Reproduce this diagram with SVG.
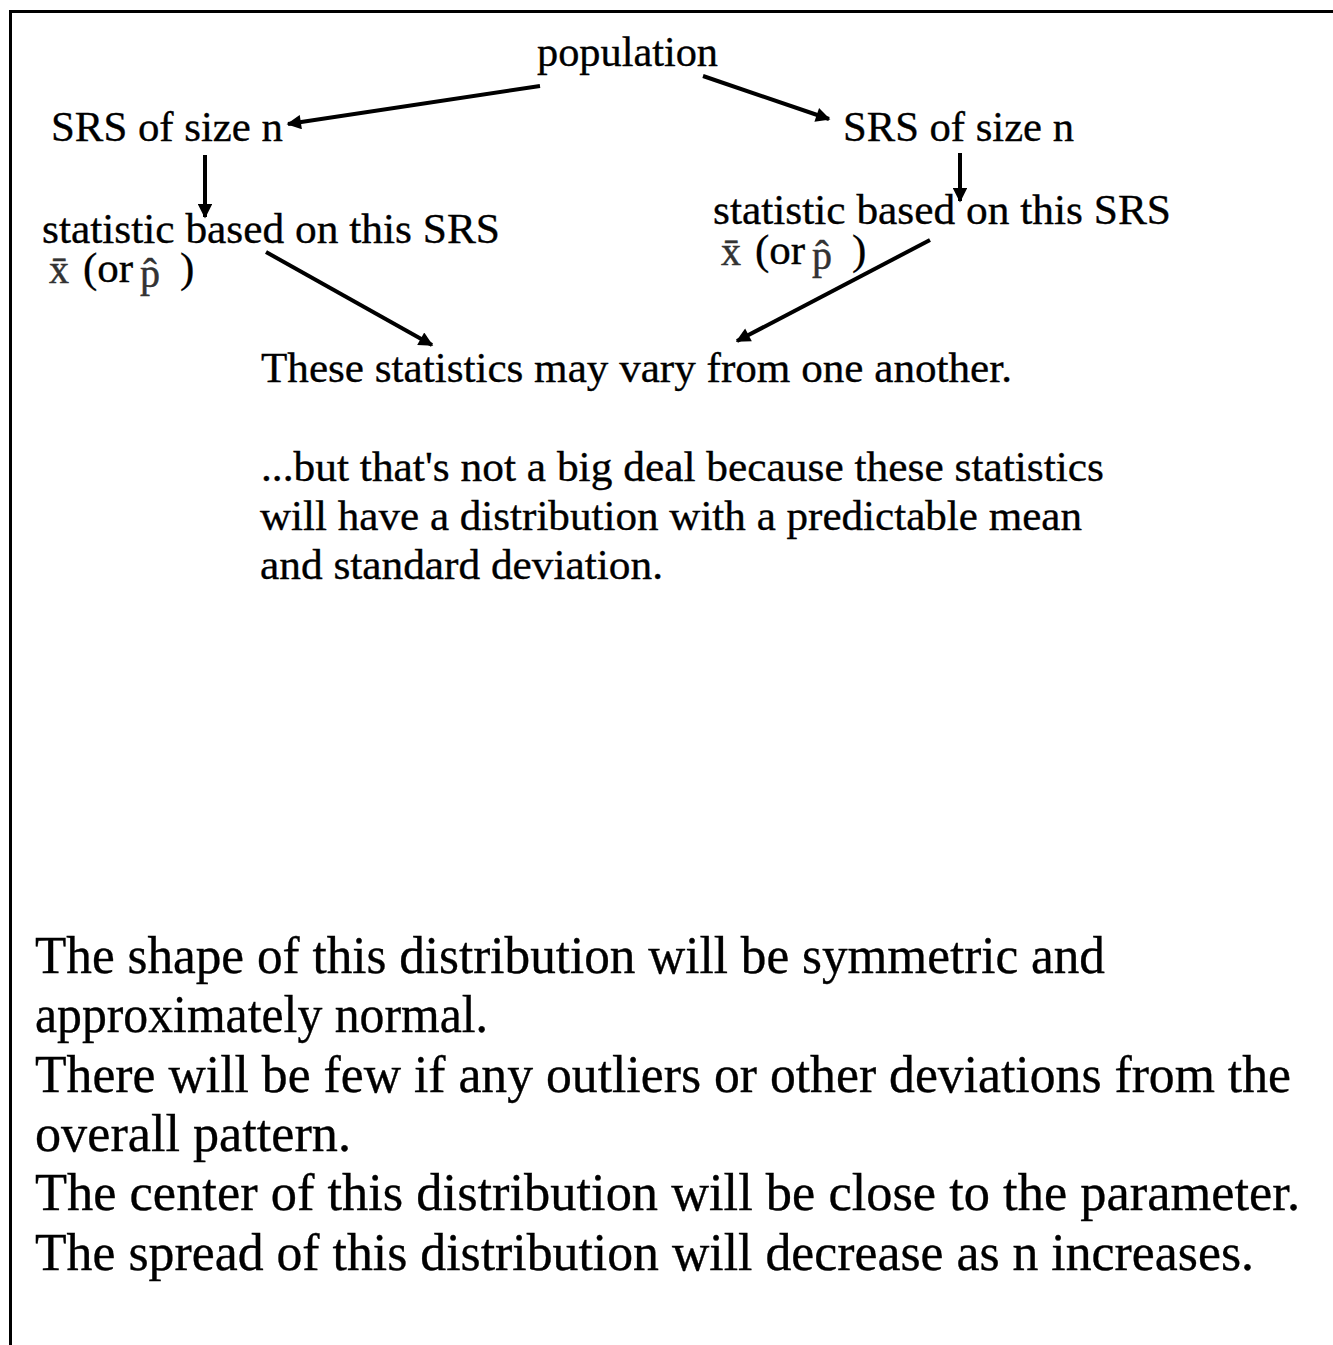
<svg xmlns="http://www.w3.org/2000/svg" width="1333" height="1345" viewBox="0 0 1333 1345">
<style>
.m{font-size:43px}
.b{font-size:52px}
.t{fill:#000;stroke:#000;stroke-width:0.35}
.sym{font-size:40px;fill:#333;stroke:#333;stroke-width:0.5}
.c{stroke:#000;stroke-width:4;fill:none;marker-end:url(#ah)}
</style>
<defs>
<marker id="ah" viewBox="0 0 10 10" refX="9" refY="5" markerWidth="4" markerHeight="3.6" orient="auto" markerUnits="strokeWidth">
<path d="M0,0 L10,5 L0,10 Z" fill="#000"/>
</marker>
</defs>
<rect x="0" y="0" width="1333" height="1345" fill="#fff"/>
<path d="M10.5,1345 V11.5 H1333" fill="none" stroke="#000" stroke-width="3"/>
<g id="connectors">
<line class="c" x1="540" y1="86" x2="288" y2="124"/>
<line class="c" x1="703" y1="76" x2="829" y2="119"/>
<line class="c" x1="205" y1="155" x2="205" y2="217"/>
<line class="c" x1="960" y1="153" x2="960" y2="201"/>
<line class="c" x1="266" y1="252" x2="432" y2="345"/>
<line class="c" x1="930" y1="240" x2="737" y2="341"/>
</g>
<g font-family="Liberation Serif, Times New Roman, serif">
<g id="population" class="t"><text class="m" x="537" y="66" textLength="181" lengthAdjust="spacingAndGlyphs">population</text></g>
<g id="srs-left" class="t"><text class="m" x="51" y="141" textLength="232" lengthAdjust="spacingAndGlyphs">SRS of size n</text></g>
<g id="srs-right" class="t"><text class="m" x="843" y="141" textLength="231" lengthAdjust="spacingAndGlyphs">SRS of size n</text></g>
<g id="statistic-left">
<text class="m t" x="42" y="243" textLength="458" lengthAdjust="spacingAndGlyphs">statistic based on this SRS</text>
<text class="sym" x="49" y="283">x̄</text><text class="m t" x="83" y="282">(or</text><text class="sym" x="140" y="287">p̂</text><text class="m t" x="180" y="282">)</text>
</g>
<g id="statistic-right">
<text class="m t" x="713" y="224" textLength="458" lengthAdjust="spacingAndGlyphs">statistic based on this SRS</text>
<text class="sym" x="721" y="265">x̄</text><text class="m t" x="755" y="264">(or</text><text class="sym" x="812" y="269">p̂</text><text class="m t" x="852" y="264">)</text>
</g>
<g id="vary" class="t">
<text class="m" x="261" y="382" textLength="751" lengthAdjust="spacingAndGlyphs">These statistics may vary from one another.</text>
</g>
<g id="distribution-note" class="t">
<text class="m" x="261" y="481" textLength="843" lengthAdjust="spacingAndGlyphs">...but that's not a big deal because these statistics</text>
<text class="m" x="260" y="530" textLength="822" lengthAdjust="spacingAndGlyphs">will have a distribution with a predictable mean</text>
<text class="m" x="260" y="579" textLength="403" lengthAdjust="spacingAndGlyphs">and standard deviation.</text>
</g>
<g id="properties" class="t">
<text class="b" x="35" y="973" textLength="1070" lengthAdjust="spacingAndGlyphs">The shape of this distribution will be symmetric and</text>
<text class="b" x="35" y="1032" textLength="453" lengthAdjust="spacingAndGlyphs">approximately normal.</text>
<text class="b" x="35" y="1092" textLength="1256" lengthAdjust="spacingAndGlyphs">There will be few if any outliers or other deviations from the</text>
<text class="b" x="35" y="1151" textLength="316" lengthAdjust="spacingAndGlyphs">overall pattern.</text>
<text class="b" x="35" y="1210" textLength="1265" lengthAdjust="spacingAndGlyphs">The center of this distribution will be close to the parameter.</text>
<text class="b" x="35" y="1270" textLength="1219" lengthAdjust="spacingAndGlyphs">The spread of this distribution will decrease as n increases.</text>
</g>
</g>
</svg>
